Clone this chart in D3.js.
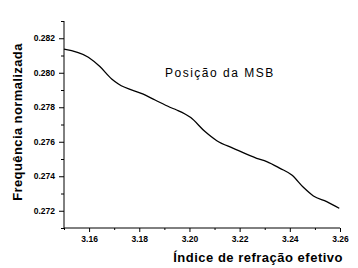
<!DOCTYPE html>
<html>
<head>
<meta charset="utf-8">
<script src="https://cdn.jsdelivr.net/npm/d3@7"></script>
<style>
  body { margin: 0; background: #fff; }
  svg text { font-family: Arial, "Liberation Sans", sans-serif; fill: #000; }
</style>
</head>
<body>
<svg id="chart" width="358" height="268"></svg>
<script>
// values
const indice = [3.150, 3.1597, 3.1643, 3.169, 3.1717, 3.1816, 3.1863, 3.1922, 3.1949, 3.2005,
                3.2062, 3.2109, 3.2175, 3.2268, 3.2308, 3.2361, 3.2408, 3.2454, 3.2494, 3.2547, 3.2597];
const frequencia = [0.28137, 0.28090, 0.28036, 0.27964, 0.27935, 0.27876, 0.27842, 0.27800, 0.27784, 0.27740,
                    0.27659, 0.27606, 0.27562, 0.27504, 0.27485, 0.27446, 0.27407, 0.27336, 0.27286, 0.27253, 0.27214];
const xTicks = [3.16, 3.18, 3.20, 3.22, 3.24, 3.26];
const yTicks = [0.272, 0.274, 0.276, 0.278, 0.280, 0.282];
const xMinor = [3.15, 3.17, 3.19, 3.21, 3.23, 3.25];
const yMinor = [0.271, 0.273, 0.275, 0.277, 0.279, 0.281, 0.283];

const svg = d3.select("#chart");

const x = d3.scaleLinear().domain([3.15, 3.26]).range([64, 340]);
const y = d3.scaleLinear().domain([0.271, 0.283]).range([228, 21]);

// minor ticks
svg.append("g")
    .attr("transform", "translate(0,228)")
    .call(d3.axisBottom(x).tickValues(xMinor).tickSize(2).tickFormat(""))
    .call(g => g.select(".domain").remove());
svg.append("g")
    .attr("transform", "translate(64,0)")
    .call(d3.axisLeft(y).tickValues(yMinor).tickSize(3).tickFormat(""))
    .call(g => g.select(".domain").remove());

// major axes
const xAxis = svg.append("g")
    .attr("transform", "translate(0,228)")
    .call(d3.axisBottom(x).tickValues(xTicks).tickSize(4).tickPadding(4).tickFormat(d3.format(".2f")));
const yAxis = svg.append("g")
    .attr("transform", "translate(64,0)")
    .call(d3.axisLeft(y).tickValues(yTicks).tickSize(5).tickPadding(4).tickFormat(d3.format(".3f")));

[xAxis, yAxis].forEach(g => {
    g.select(".domain").attr("d", null);
    g.selectAll("text")
        .style("font-family", "Arial, 'Liberation Sans', sans-serif")
        .style("font-size", "8.5px")
        .style("font-weight", "bold");
});
svg.append("line").attr("x1", 64).attr("x2", 340).attr("y1", 228).attr("y2", 228)
    .attr("stroke", "#000");
svg.append("line").attr("x1", 64).attr("x2", 64).attr("y1", 21).attr("y2", 228)
    .attr("stroke", "#000");
svg.selectAll(".tick line").attr("stroke", "#000");

// curve
const pts = indice.map((v, i) => [v, frequencia[i]]);
svg.append("path")
    .datum(pts)
    .attr("fill", "none")
    .attr("stroke", "#000")
    .attr("stroke-width", 1.3)
    .attr("d", d3.line().x(d => x(d[0])).y(d => y(d[1])).curve(d3.curveMonotoneX));

// labels
svg.append("text")
    .attr("x", 165).attr("y", 77)
    .style("font-size", "12px")
    .style("letter-spacing", "1.5px")
    .text("Posição da MSB");

svg.append("text")
    .attr("x", 343).attr("y", 262)
    .attr("text-anchor", "end")
    .style("font-size", "13px")
    .style("font-weight", "bold")
    .style("letter-spacing", "0.5px")
    .text("Índice de refração efetivo");

svg.append("text")
    .attr("transform", "translate(22,122) rotate(-90)")
    .attr("text-anchor", "middle")
    .style("font-size", "13px")
    .style("font-weight", "bold")
    .style("letter-spacing", "0.4px")
    .text("Frequência normalizada");
</script>
</body>
</html>
